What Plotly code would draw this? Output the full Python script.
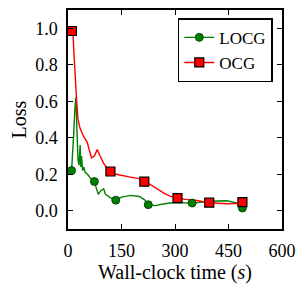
import plotly.graph_objects as go

# LOCG series (full line) and marker positions
locg_t = [10, 13, 16, 19, 22, 25, 28, 31, 34, 36, 38, 41, 44, 48, 55, 62, 68, 74, 80, 85, 92, 100, 105, 112, 120, 128, 134,
          150, 175, 200, 215, 225, 245, 270, 300, 348, 400, 445, 470, 489]
locg_v = [0.22, 0.30, 0.42, 0.55, 0.62, 0.45, 0.28, 0.25, 0.36, 0.24, 0.30, 0.22, 0.24, 0.21, 0.20, 0.18, 0.17, 0.16, 0.12, 0.09,
          0.11, 0.12, 0.09, 0.08, 0.07, 0.06, 0.058, 0.075, 0.084, 0.078, 0.06, 0.033, 0.028, 0.038, 0.045, 0.042, 0.052, 0.055,
          0.045, 0.015]
locg_mt = [10, 74, 134, 225, 348, 489]
locg_mv = [0.22, 0.16, 0.058, 0.033, 0.042, 0.015]

# OCG series
ocg_t = [11, 14, 17, 20, 24, 28, 34, 43, 54, 60, 66, 74, 82, 90, 100, 111, 119, 135, 155, 175, 202, 214, 230, 249, 270,
         286, 307, 330, 361, 396, 420, 445, 470, 489]
ocg_v = [0.985, 0.975, 0.85, 0.72, 0.61, 0.50, 0.45, 0.41, 0.375, 0.33, 0.29, 0.30, 0.335, 0.30, 0.26, 0.23, 0.215, 0.20,
         0.19, 0.184, 0.175, 0.16, 0.145, 0.12, 0.095, 0.08, 0.069, 0.062, 0.056, 0.044, 0.04, 0.038, 0.04, 0.047]
ocg_mt = [11, 119, 214, 307, 396, 489]
ocg_mv = [0.985, 0.215, 0.16, 0.069, 0.044, 0.047]

x_ticks = [0, 150, 300, 450, 600]
y_ticks = [0.0, 0.2, 0.4, 0.6, 0.8, 1.0]

GREEN = "#007f00"
RED = "#ff0000"
FONT = "Liberation Serif"

fig = go.Figure()
fig.add_trace(go.Scatter(x=locg_t, y=locg_v, mode="lines", line=dict(color=GREEN, width=1.4),
                         showlegend=False, hoverinfo="skip"))
fig.add_trace(go.Scatter(x=ocg_t, y=ocg_v, mode="lines", line=dict(color=RED, width=1.4),
                         showlegend=False, hoverinfo="skip"))
fig.add_trace(go.Scatter(x=locg_mt, y=locg_mv, mode="markers",
                         marker=dict(symbol="circle", size=8, color=GREEN, line=dict(color="#003000", width=0.8)),
                         showlegend=False))
fig.add_trace(go.Scatter(x=ocg_mt, y=ocg_mv, mode="markers",
                         marker=dict(symbol="square", size=9, color=RED, line=dict(color="black", width=1.2)),
                         showlegend=False))
# legend entries
fig.add_trace(go.Scatter(x=[None], y=[None], mode="lines+markers", name="LOCG",
                         line=dict(color=GREEN, width=1.4),
                         marker=dict(symbol="circle", size=8, color=GREEN, line=dict(color="#003000", width=0.8))))
fig.add_trace(go.Scatter(x=[None], y=[None], mode="lines+markers", name="OCG",
                         line=dict(color=RED, width=1.4),
                         marker=dict(symbol="square", size=9, color=RED, line=dict(color="black", width=1.2))))

axis_common = dict(showline=True, linecolor="black", linewidth=1.5, mirror="allticks", ticks="inside",
                   ticklen=5, tickwidth=1.2, tickcolor="black", showgrid=False, zeroline=False,
                   automargin=False, ticklabelstandoff=5,
                   tickfont=dict(family=FONT, size=18, color="black"))
fig.update_xaxes(range=[0, 600], tickvals=x_ticks, ticktext=[str(v) for v in x_ticks],
                 title=dict(text="Wall-clock time (<i>s</i>)", font=dict(family=FONT, size=20, color="black"), standoff=1),
                 **axis_common)
fig.update_yaxes(range=[-0.1, 1.1], tickvals=y_ticks, ticktext=[f"{v:.1f}" for v in y_ticks],
                 title=dict(text="Loss", font=dict(family=FONT, size=20, color="black"), standoff=6),
                 **axis_common)
# the page body adds an 8px offset, so the figure is sized/margined to compensate
fig.update_layout(
    width=298, height=283,
    margin=dict(l=60, r=24, t=2, b=62),
    paper_bgcolor="white", plot_bgcolor="white",
    font=dict(family=FONT, size=17, color="black"),
    legend=dict(x=0.957, y=0.962, xanchor="right", yanchor="top", bgcolor="white",
                bordercolor="black", borderwidth=1.5, font=dict(family=FONT, size=17, color="black"),
                itemwidth=30, tracegroupgap=0),
)
fig.write_html("out.html")
